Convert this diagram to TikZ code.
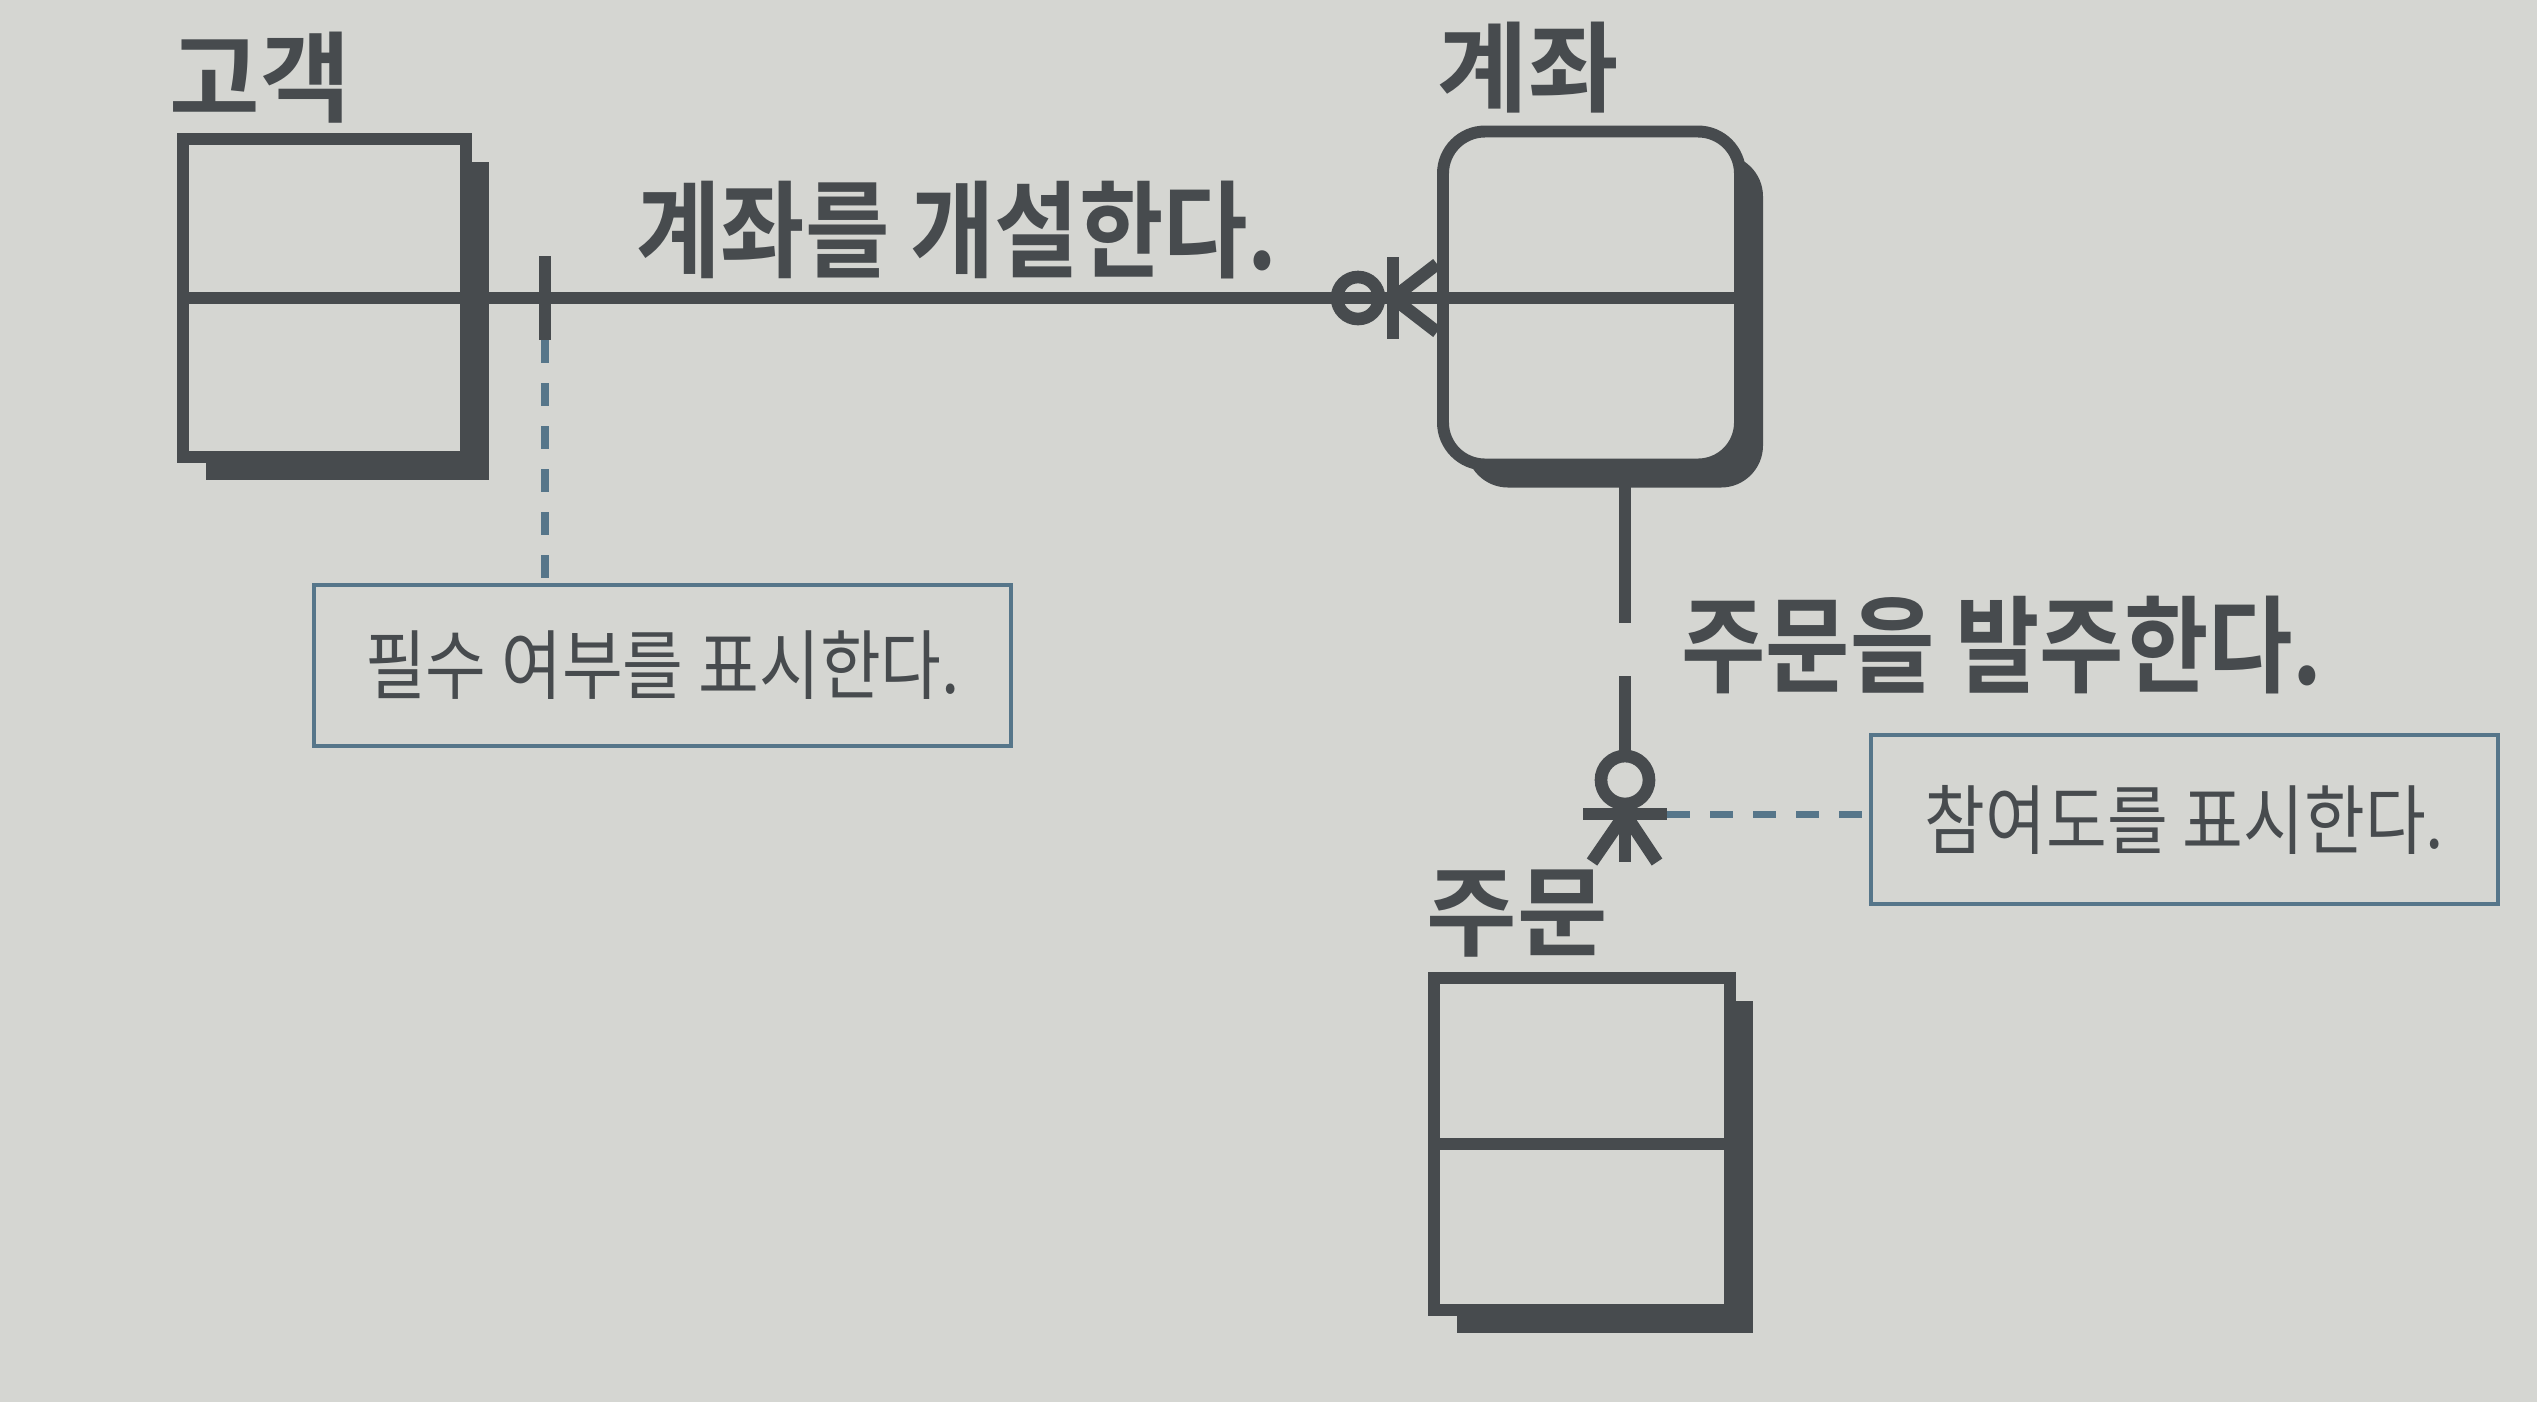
\documentclass[tikz,border=0pt]{standalone}
\usepackage{fontspec}
\usepackage{tikz}
\usetikzlibrary{calc,shadows}
\newfontfamily\namefont{Noto Sans CJK KR Bold}
\newfontfamily\relfont[FakeStretch=0.87]{Noto Sans CJK KR Bold}
\newfontfamily\memofont[FakeStretch=0.87]{Noto Sans CJK KR}
\definecolor{paper}{HTML}{D5D6D2}
\definecolor{ink}{HTML}{474B4E}
\definecolor{memo}{HTML}{56768A}

\begin{document}
\begin{tikzpicture}
[
    entity/.style = {draw = ink, fill = paper, line width = 3.4pt, inner sep = 0pt,
        drop shadow = {shadow xshift = 0.23cm, shadow yshift = -0.23cm, fill = ink, opacity = 1}},
    entity name/.style = {text = ink, inner sep = 0pt, font = \namefont\fontsize{28}{32}\selectfont},
    relation/.style = {draw = ink, line width = 3.6pt},
    relation name/.style = {text = ink, inner sep = 0pt, font = \relfont\fontsize{30}{34}\selectfont},
    optional/.style = {circle, draw = ink, line width = 3.6pt, inner sep = 0pt},
    memo box/.style = {draw = memo, line width = 1.2pt, text = ink, inner sep = 0pt,
        font = \memofont\fontsize{21.6}{26}\selectfont},
    memo line/.style = {draw = memo, line width = 2pt, dash pattern = on 0.23cm off 0.2cm},
]
    \fill[paper] (0, 0) rectangle (25.37, -14.02);
    \useasboundingbox (0, 0) rectangle (25.37, -14.02);

    \node[entity, minimum width = 2.83cm, minimum height = 3.18cm] (cust) at (3.245, -2.98) {};
    \node[entity, rounded corners = 0.42cm, minimum width = 2.97cm, minimum height = 3.33cm] (acct) at (15.915, -2.98) {};
    \node[entity, minimum width = 2.96cm, minimum height = 3.32cm] (ord) at (15.82, -11.44) {};
    \draw[relation] (cust.west) -- (cust.east);
    \draw[relation] (acct.west) -- (acct.east);
    \draw[relation] (ord.west) -- (ord.east);

    \node[entity name] (custName) at (2.60, -0.78) {고객};
    \node[entity name] (acctName) at (15.28, -0.68) {계좌};
    \node[entity name] (ordName) at (15.17, -9.14) {주문};

    \node[optional, minimum size = 0.42cm] (acctOpt) at (13.58, -2.98) {};
    \coordinate (acctFoot) at (13.93, -2.98);
    \coordinate (custBar) at (5.45, -2.98);
    \draw[relation] (cust.east) -- (acct.west);
    \draw[relation] ($(custBar) + (0, 0.42)$) -- ($(custBar) + (0, -0.42)$);
    \draw[relation] ($(acctFoot) + (0, 0.41)$) -- ($(acctFoot) + (0, -0.41)$);
    \draw[relation] ($(acct.west) + (0, 0.34)$) -- (acctFoot) -- ($(acct.west) + (0, -0.34)$);
    \node[relation name] (openName) at (9.57, -2.30) {계좌를 개설한다.};

    \node[optional, minimum size = 0.48cm] (ordOpt) at (16.25, -7.80) {};
    \coordinate (ordGapA) at (16.25, -6.23);
    \coordinate (ordGapB) at (16.25, -6.76);
    \coordinate (ordBar) at (16.25, -8.14);
    \draw[relation] (acct.south -| ordOpt) -- (ordGapA);
    \draw[relation] (ordGapB) -- (ordOpt.north);
    \draw[relation] (ordOpt.south) -- (ordBar);
    \draw[relation] ($(ordBar) + (-0.42, 0)$) -- ($(ordBar) + (0.42, 0)$);
    \draw[relation] (ordBar) -- ++(-0.33, -0.48);
    \draw[relation] (ordBar) -- ++(0, -0.48);
    \draw[relation] (ordBar) -- ++(0.32, -0.48);
    \node[relation name] (orderName) at (20.02, -6.45) {주문을 발주한다.};

    \node[memo box, minimum width = 6.97cm, minimum height = 1.61cm] (memoA) at (6.625, -6.655) {필수 여부를 표시한다.};
    \node[memo box, minimum width = 6.27cm, minimum height = 1.69cm] (memoB) at (21.845, -8.195) {참여도를 표시한다.};
    \draw[memo line] ($(custBar) + (0, -0.42)$) -- (custBar |- memoA.north);
    \draw[memo line] ($(ordBar) + (0.42, 0)$) -- (ordBar -| memoB.west);
\end{tikzpicture}
\end{document}
